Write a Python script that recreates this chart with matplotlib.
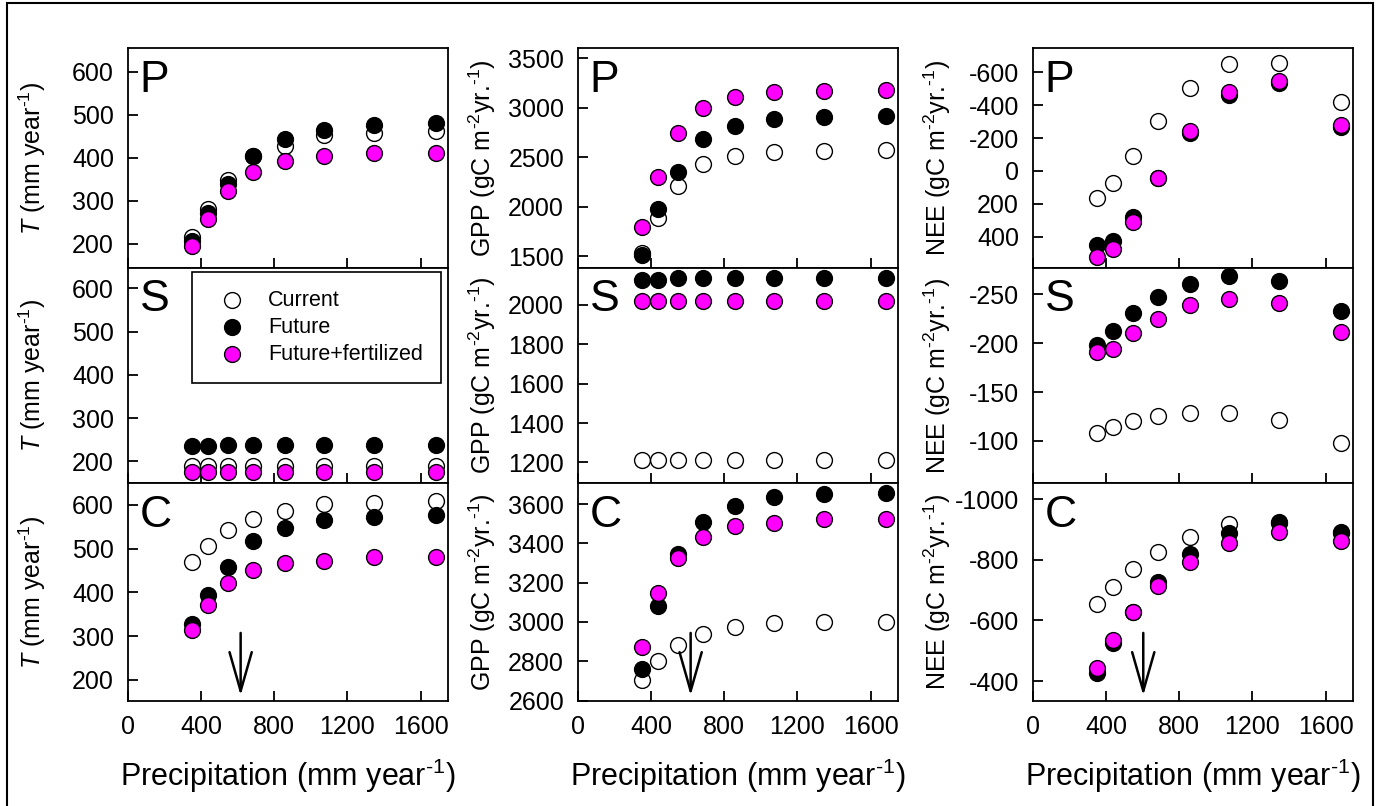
import matplotlib
matplotlib.use("Agg")
import matplotlib.pyplot as plt
from matplotlib.patches import Rectangle

plt.rcParams['font.family'] = ['Liberation Sans', 'DejaVu Sans']
plt.rcParams['axes.unicode_minus'] = False
plt.rcParams['mathtext.fontset'] = 'custom'
plt.rcParams['mathtext.rm'] = 'Liberation Sans'
plt.rcParams['mathtext.it'] = 'Liberation Sans:italic'

# --- data ---
precip = [350, 435, 548, 686, 856, 1074, 1344, 1682]
series_names = ['Current', 'Future', 'Future+fertilized']
row_letters = ['P', 'S', 'C']

# transpiration T (mm year-1)
T_P_current = [217, 282, 348, 405, 428, 452, 458, 462]
T_P_future = [207, 272, 340, 405, 443, 465, 475, 480]
T_P_fert = [195, 258, 323, 368, 393, 405, 410, 412]
T_S_current = [190, 190, 190, 190, 190, 190, 190, 190]
T_S_future = [235, 235, 237, 237, 237, 237, 238, 238]
T_S_fert = [176, 176, 176, 176, 176, 176, 176, 176]
T_C_current = [470, 507, 543, 568, 587, 602, 605, 608]
T_C_future = [328, 394, 459, 518, 547, 566, 573, 577]
T_C_fert = [314, 371, 421, 451, 468, 472, 480, 482]

# GPP (gC m-2 yr-1)
GPP_P_current = [1527, 1881, 2211, 2427, 2515, 2549, 2562, 2572]
GPP_P_future = [1510, 1972, 2353, 2680, 2815, 2883, 2903, 2916]
GPP_P_fert = [1790, 2302, 2741, 2994, 3112, 3156, 3172, 3179]
GPP_S_current = [1212, 1212, 1212, 1212, 1212, 1212, 1212, 1212]
GPP_S_future = [2125, 2127, 2138, 2138, 2138, 2137, 2138, 2138]
GPP_S_fert = [2021, 2021, 2021, 2021, 2021, 2021, 2021, 2021]
GPP_C_current = [2705, 2802, 2883, 2938, 2976, 2993, 2998, 2998]
GPP_C_future = [2761, 3081, 3346, 3507, 3590, 3634, 3651, 3654]
GPP_C_fert = [2875, 3146, 3327, 3431, 3488, 3502, 3522, 3525]

# NEE (gC m-2 yr-1)
NEE_P_current = [167, 72, -92, -304, -503, -650, -659, -417]
NEE_P_future = [451, 425, 279, 41, -232, -462, -533, -265]
NEE_P_fert = [522, 477, 309, 41, -245, -478, -547, -279]
NEE_S_current = [-108, -114, -120, -126, -129, -129, -121, -98]
NEE_S_future = [-198, -213, -231, -247, -261, -269, -264, -233]
NEE_S_fert = [-191, -194, -210, -225, -239, -245, -241, -212]
NEE_C_current = [-656, -711, -769, -827, -877, -917, -922, -890]
NEE_C_future = [-425, -524, -627, -728, -819, -888, -926, -893]
NEE_C_fert = [-442, -535, -627, -714, -794, -857, -891, -862]

x_ticks = [0, 400, 800, 1200, 1600]
arrow_x = [616, 616, 603]

panels = [
    # row P
    [(T_P_current, T_P_future, T_P_fert, (144, 655), [200, 300, 400, 500, 600]),
     (GPP_P_current, GPP_P_future, GPP_P_fert, (1380, 3605), [1500, 2000, 2500, 3000, 3500]),
     (NEE_P_current, NEE_P_future, NEE_P_fert, (590, -748), [400, 200, 0, -200, -400, -600])],
    # row S
    [(T_S_current, T_S_future, T_S_fert, (150, 647), [200, 300, 400, 500, 600]),
     (GPP_S_current, GPP_S_future, GPP_S_fert, (1095, 2188), [1200, 1400, 1600, 1800, 2000]),
     (NEE_S_current, NEE_S_future, NEE_S_fert, (-57, -277), [-100, -150, -200, -250])],
    # row C
    [(T_C_current, T_C_future, T_C_fert, (152, 650), [200, 300, 400, 500, 600]),
     (GPP_C_current, GPP_C_future, GPP_C_fert, (2598, 3707), [2600, 2800, 3000, 3200, 3400, 3600]),
     (NEE_C_current, NEE_C_future, NEE_C_fert, (-334, -1054), [-400, -600, -800, -1000])],
]

ylabels = [r'$\it{T}$ (mm year$^{\text{-}1}$)',
           r'GPP (gC m$^{\text{-}2}$yr.$^{\text{-}1}$)',
           r'NEE (gC m$^{\text{-}2}$yr.$^{\text{-}1}$)']
xlabel = r'Precipitation (mm year$^{\text{-}1}$)'

W, H = 1377, 806
fig = plt.figure(figsize=(W / 100, H / 100), dpi=100)

col_left = [128, 578, 1033]
col_w = 320
row_top = [48, 268, 483]
row_bot = [268, 483, 701]

styles = [dict(facecolor='white', edgecolor='black'),
          dict(facecolor='black', edgecolor='black'),
          dict(facecolor='#ff00ff', edgecolor='black')]

for r in range(3):
    for c in range(3):
        cur, fut, fer, ylim, yticks = panels[r][c]
        ax = fig.add_axes([col_left[c] / W, (H - row_bot[r]) / H,
                           col_w / W, (row_bot[r] - row_top[r]) / H])
        for vals, st, name in zip([cur, fut, fer], styles, series_names):
            ax.scatter(precip, vals, s=130, linewidths=1.0, label=name,
                       zorder=3, **st)
        ax.set_xlim(0, 1750)
        ax.set_ylim(*ylim)
        ax.set_xticks(x_ticks)
        ax.set_yticks(yticks)
        ax.tick_params(direction='in', length=7, width=1.3, labelsize=18,
                       top=False, right=False)
        ax.tick_params(axis='y', pad=10)
        ax.tick_params(axis='x', pad=10)
        for sp in ax.spines.values():
            sp.set_linewidth(1.3)
        if r < 2:
            ax.set_xticklabels([])
        else:
            ax.set_xlabel(xlabel, fontsize=22, labelpad=13)
            ax.annotate('', xy=(arrow_x[c], 0.012), xytext=(arrow_x[c], 0.325),
                        xycoords=('data', 'axes fraction'),
                        textcoords=('data', 'axes fraction'),
                        arrowprops=dict(arrowstyle='->, head_length=1.4, head_width=0.4',
                                        mutation_scale=20, lw=1.8, color='black'),
                        zorder=5)
        ax.set_ylabel(ylabels[c], fontsize=18)
        ax.yaxis.set_label_coords(-0.25, 0.5)
        ax.text(0.037, 0.80, row_letters[r], transform=ax.transAxes,
                fontsize=32, ha='left', va='baseline')
        if r == 1 and c == 0:
            ax.legend(loc='upper left', bbox_to_anchor=(0.199, 0.983),
                      fontsize=15.5, frameon=True, fancybox=False,
                      edgecolor='black', framealpha=1, borderpad=0.85,
                      handlelength=2.0, handletextpad=0.7, labelspacing=0.28,
                      borderaxespad=0)
            ax.get_legend().get_frame().set_linewidth(1.2)

# outer frame around the whole figure
fig.patches.append(Rectangle((7 / W, -0.01), (1373 - 7) / W, 1.01 - 3 / H,
                             transform=fig.transFigure, fill=False,
                             edgecolor='black', linewidth=1.5))

fig.savefig('out.png', dpi=100)
